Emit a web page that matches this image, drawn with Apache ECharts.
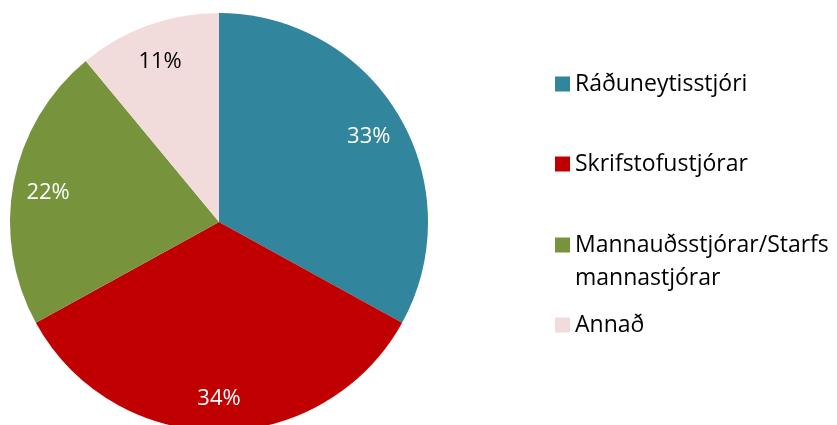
<!DOCTYPE html>
<html>
<head>
<meta charset="utf-8">
<script src="https://cdn.jsdelivr.net/npm/echarts@6/dist/echarts.min.js"></script>
<style>
  html, body { margin: 0; padding: 0; background: #fff; }
  #main { width: 837px; height: 425px; }
</style>
</head>
<body>
<div id="main"></div>
<script>
var categories = ['Ráðuneytisstjóri', 'Skrifstofustjórar', 'Mannauðsstjórar/Starfsmannastjórar', 'Annað'];
var values = [33, 34, 22, 11];
var colors = ['#31859C', '#C00000', '#77933C', '#F2DCDB'];
var labelColors = ['#ffffff', '#ffffff', '#ffffff', '#000000'];

var font = '"Open Sans", sans-serif';
var lh = 33;
var legendTops = [67.5, 147.5, 195.5, 308.5];

var myChart = echarts.init(document.getElementById('main'));

var pieData = categories.map(function (name, i) {
    return { name: name, value: values[i], itemStyle: { color: colors[i] } };
});
var labelData = categories.map(function (name, i) {
    return {
        name: name, value: values[i],
        itemStyle: { color: 'transparent' },
        label: { color: labelColors[i] }
    };
});

// one legend per item so the wrapped entry keeps the same spacing
var legends = categories.map(function (name, i) {
    return {
        orient: 'vertical',
        left: 555,
        top: legendTops[i],
        padding: 0,
        itemWidth: 15,
        itemHeight: 15,
        icon: 'rect',
        selectedMode: false,
        data: [name],
        formatter: function (n) {
            // blank first line keeps the icon level with the first text line
            return n.length > 22 ? '\n' + n.slice(0, 22) + '\n' + n.slice(22) : n;
        },
        textStyle: {
            fontFamily: font,
            fontSize: 23,
            color: '#000',
            lineHeight: lh
        }
    };
});

var option = {
    animation: false,
    legend: legends,
    series: [
        {
            type: 'pie',
            center: [219, 222],
            radius: [0, 209],
            startAngle: 90,
            clockwise: true,
            silent: true,
            label: { show: false },
            labelLine: { show: false },
            data: pieData
        },
        {
            type: 'pie',
            center: [219, 222],
            radius: [133, 209],
            startAngle: 90,
            clockwise: true,
            silent: true,
            label: {
                show: true,
                position: 'inside',
                formatter: '{d}%',
                fontFamily: font,
                fontSize: 22,
                offset: [0, 3]
            },
            labelLine: { show: false },
            data: labelData
        }
    ]
};
myChart.setOption(option);
</script>
</body>
</html>
